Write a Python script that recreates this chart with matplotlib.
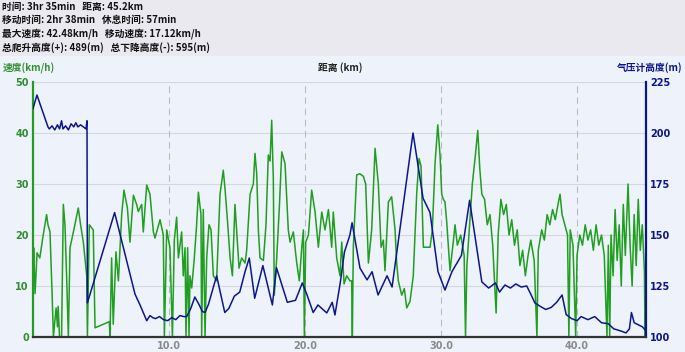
"""Speed and barometric altitude profile of a ride, drawn against distance."""

from __future__ import annotations

import matplotlib

matplotlib.use("Agg")
import matplotlib.pyplot as plt
from matplotlib.patches import Rectangle

CJK = ["Noto Sans CJK SC", "DejaVu Sans"]

SUMMARY_LINES = [
    "时间: 3hr 35min   距离: 45.2km",
    "移动时间: 2hr 38min   休息时间: 57min",
    "最大速度: 42.48km/h   移动速度: 17.12km/h",
    "总爬升高度(+): 489(m)   总下降高度(-): 595(m)",
]

# speed trace (km, km/h)
speed_km = [
    0.0, 0.05, 0.15, 0.3, 0.5, 0.75, 1.0, 1.1, 1.25, 1.4, 1.5, 1.6, 1.7, 1.8, 1.85, 1.95,
    2.1, 2.23, 2.35, 2.47, 2.6, 2.72, 2.97, 3.33, 3.5, 3.7, 3.95, 4.0, 4.14, 4.43, 4.56,
    5.61, 5.66, 5.78, 5.9, 6.1, 6.28, 6.52, 6.69, 6.94, 7.13, 7.38, 7.62, 7.74, 7.99,
    8.11, 8.36, 8.6, 8.85, 8.97, 9.34, 9.58, 9.66, 9.83, 10.07, 10.25, 10.39, 10.56,
    10.69, 10.93, 11.05, 11.18, 11.25, 11.37, 11.47, 11.54, 11.67, 11.86, 12.03, 12.16,
    12.35, 12.4, 12.52, 12.65, 12.77, 12.94, 13.09, 13.26, 13.5, 13.75, 13.99, 14.12,
    14.32, 14.49, 14.66, 14.85, 14.97, 15.15, 15.34, 15.59, 15.71, 15.96, 16.2, 16.32,
    16.45, 16.57, 16.69, 16.94, 17.13, 17.3, 17.43, 17.55, 17.67, 17.74, 17.92, 18.11,
    18.29, 18.53, 18.77, 18.9, 19.14, 19.39, 19.58, 19.76, 19.88, 19.95, 20.05, 20.25,
    20.49, 20.74, 20.98, 21.23, 21.47, 21.72, 21.96, 22.08, 22.33, 22.57, 22.7, 22.87,
    23.06, 23.31, 23.43, 23.48, 23.55, 23.8, 24.04, 24.29, 24.46, 24.66, 24.9, 25.15,
    25.39, 25.59, 25.76, 25.88, 26.13, 26.37, 26.62, 26.74, 26.86, 27.11, 27.3, 27.48,
    27.72, 27.96, 28.21, 28.38, 28.53, 28.7, 29.19, 29.36, 29.56, 29.76, 29.93, 30.05,
    30.17, 30.29, 30.42, 30.66, 30.9, 31.03, 31.2, 31.45, 31.7, 31.8, 31.9, 32.1, 32.3,
    32.5, 32.7, 32.85, 33.0, 33.2, 33.4, 33.6, 33.8, 34.05, 34.2, 34.4, 34.6, 34.8,
    35.0, 35.2, 35.4, 35.6, 35.8, 36.0, 36.2, 36.4, 36.6, 36.85, 37.05, 37.15, 37.4,
    37.6, 37.8, 38.0, 38.2, 38.4, 38.6, 38.75, 38.9, 39.1, 39.3, 39.4, 39.5, 39.7,
    39.9, 40.0, 40.2, 40.4, 40.6, 40.8, 41.0, 41.2, 41.4, 41.6, 41.8, 42.0, 42.2, 42.3,
    42.4, 42.5, 42.65, 42.8, 42.95, 43.1, 43.25, 43.4, 43.55, 43.75, 43.9, 44.05, 44.2,
    44.35, 44.5, 44.65, 44.8, 44.95, 45.0, 45.05,
]
speed_kmh = [
    12, 17.5, 8.5, 16.5, 15.5, 20, 24, 22, 20.6, 8.8, 0, 3, 5.7, 2, 6, 0,
    0, 26, 22, 12, 0, 17.5, 20.6, 25.3, 22, 18.6, 12, 0, 22, 21, 1.8,
    3, 0, 15.5, 2.5, 16.7, 11, 24, 28.8, 25.3, 18.6, 27.8, 26, 24.6, 26,
    20.6, 29.8, 28, 20.6, 19.4, 23, 20, 0, 21, 17.5, 0, 19, 23.5,
    15.5, 20.6, 12, 17.5, 0, 17.5, 0, 12, 9.6, 15.5, 22, 28.4,
    24, 0, 25, 0, 15.5, 22, 21, 12, 11, 28, 32.7, 29,
    22, 15.5, 12, 26, 21, 13.5, 15.5, 14.5, 17, 28, 30, 36,
    32, 21, 15.5, 15, 22, 35.7, 34.5, 42.5, 31, 8.2, 15.5, 25.3,
    36.3, 34, 21, 18.6, 20.6, 14.5, 11, 17.5, 21, 0, 18.6, 20,
    28.8, 24.5, 17.6, 24.5, 21, 25, 17.6, 24.5, 15.5, 12, 18.6, 10.4,
    12, 11, 11, 0, 17.5, 31.8, 32, 31.5, 30, 14.5, 21, 37,
    30, 17.6, 19, 13, 26.5, 27.5, 21, 14.5, 11, 8.2, 9.5, 5.7,
    7, 12, 28, 35, 33.5, 17.6, 17.6, 21, 34, 41.6, 35.5, 28,
    27, 26.5, 22.5, 13, 18.6, 22, 18, 20, 16, 0, 14, 22, 30,
    35, 40.5, 33, 28, 27, 22, 24, 18, 4.7, 20, 27, 24, 26,
    20, 23, 18, 21, 14, 17, 12, 16, 19, 15, 0, 17, 21,
    19, 24, 22, 25, 23, 26, 28, 24, 22, 20, 0, 21, 18,
    0, 16, 20, 18, 22, 19, 21, 17, 22, 18, 20, 16, 0, 18,
    0, 20, 12, 25, 15, 22, 10, 26, 16, 30, 18, 10, 24,
    14, 27, 17, 22, 13, 0, 13,
]

# barometric altitude trace (km, m)
alt_km = [
    0.0, 0.29, 1.1, 1.2, 1.4, 1.6, 1.8, 1.95, 2.1, 2.2, 2.4, 2.6, 2.8, 3.0, 3.15, 3.3,
    3.5, 3.7, 3.9, 3.97, 4.0, 6.0, 7.5, 7.87, 8.36, 8.6, 8.8, 9.0, 9.3, 9.6, 9.9, 10.2,
    10.5, 10.8, 11.1, 11.3, 11.6, 11.9, 12.2, 12.45, 12.65, 12.9, 13.2, 13.5, 13.8, 14.1,
    14.4, 14.8, 15.2, 15.59, 15.9, 16.3, 16.9, 17.6, 17.9, 18.7, 19.3, 19.8, 20.15, 20.6,
    20.95, 21.6, 22.0, 22.2, 22.6, 22.9, 23.3, 23.46, 24.04, 24.56, 24.93, 25.37, 26.03,
    26.4, 27.94, 28.68, 29.19, 29.78, 30.29, 30.8, 31.5, 32.1, 33.0, 33.5, 34.0, 34.3,
    34.7, 35.1, 35.5, 35.9, 36.3, 36.6, 36.9, 37.3, 37.7, 38.1, 38.5, 38.9, 39.2, 39.6,
    40.0, 40.3, 40.8, 41.3, 41.8, 42.3, 42.7, 43.2, 43.6, 43.85, 44.0, 44.2, 44.5, 44.8,
    45.0,
]
alt_m = [
    212, 218.6, 203, 202, 203.5, 201.5, 204, 202, 206, 202, 203.5, 201.5, 204.5, 203, 205, 203,
    204, 203, 202, 206, 116.7, 161, 121, 115.7, 108, 110.5, 109.5, 109, 110, 108.5, 108, 109.5,
    108.5, 110.5, 110, 110, 114, 119.6, 116, 112.5, 112, 116, 123, 130, 121, 112,
    114, 120, 122, 132, 138.7, 119, 135, 115.7, 134, 117, 118, 126.5, 120.6, 112,
    115.7, 111.8, 117, 110.8, 127, 141.7, 150, 156, 133.8, 128, 132, 120.6, 130,
    124.5, 200, 168, 161, 132, 123, 132, 140, 167, 127, 124, 126.5, 122,
    125.5, 124, 126, 124.5, 125, 121, 116.7, 115, 113.5, 114.5, 117, 120.6, 111, 109,
    108, 110, 108.5, 110, 107, 106.5, 104, 103, 102, 104, 112, 107, 106, 105,
    103.5,
]

speed_ticks = [0, 10, 20, 30, 40, 50]
alt_ticks = [100, 125, 150, 175, 200, 225]
dist_ticks = [10, 20, 30, 40]

GREEN = "#1f9e1f"
GREEN_TXT = "#2f8f2f"
NAVY = "#0c168c"
BG = "#eef3fb"


def draw_header(fig) -> None:
    fig.patches.append(
        Rectangle((0, 1 - 56 / 352), 1, 56 / 352, transform=fig.transFigure,
                  facecolor="#e9e9ef", edgecolor="none", zorder=0)
    )
    for i, line in enumerate(SUMMARY_LINES):
        y = 1 - (6.5 + i * 13.6) / 352
        fig.text(0.003, y, line, ha="left", va="center", fontsize=7.0,
                 fontweight="bold", family=CJK, color="#111111")


def main() -> None:
    fig = plt.figure(figsize=(6.85, 3.52), dpi=100, facecolor=BG)
    draw_header(fig)

    ax = fig.add_axes([33 / 685, 15 / 352, 613 / 685, 255 / 352])
    ax.set_facecolor(BG)
    ax2 = ax.twinx()

    ax.set_xlim(0, 45.07)
    ax.set_ylim(0, 50)
    ax2.set_ylim(100, 225)

    for v in speed_ticks[1:]:
        ax.axhline(v, color="#d4d8e0", lw=0.8, zorder=0)
    for d in dist_ticks:
        ax.axvline(d, color="#b8bcc4", lw=0.8, ls=(0, (6, 4)), zorder=0)

    ax.plot(speed_km, speed_kmh, color=GREEN, lw=1.1, zorder=2)
    ax2.plot(alt_km, alt_m, color=NAVY, lw=1.1, zorder=3)

    ax.set_xticks(dist_ticks)
    ax.set_xticklabels([f"{d:.1f}" for d in dist_ticks])
    ax.set_yticks(speed_ticks)
    ax2.set_yticks(alt_ticks)

    ax.tick_params(axis="x", length=0, pad=3, labelsize=7, labelcolor="#8a8a8a")
    ax.tick_params(axis="y", length=0, pad=3, labelsize=7, labelcolor=GREEN_TXT)
    ax2.tick_params(axis="y", length=0, pad=3, labelsize=7, labelcolor=NAVY)
    for lbl in ax.get_xticklabels() + ax.get_yticklabels() + ax2.get_yticklabels():
        lbl.set_fontweight("bold")

    for a in (ax, ax2):
        for side in ("top", "left", "right", "bottom"):
            a.spines[side].set_visible(False)
    ax2.spines["left"].set_visible(True)
    ax2.spines["left"].set_color(GREEN)
    ax2.spines["left"].set_linewidth(1.6)
    ax2.spines["right"].set_visible(True)
    ax2.spines["right"].set_color(NAVY)
    ax2.spines["right"].set_linewidth(1.6)
    ax2.spines["bottom"].set_visible(True)
    ax2.spines["bottom"].set_color("#333333")
    ax2.spines["bottom"].set_linewidth(1.6)

    fig.text(3 / 685, 1 - 68 / 352, "速度(km/h)", ha="left", va="center",
             fontsize=7.0, fontweight="bold", family=CJK, color=GREEN_TXT)
    fig.text(340 / 685, 1 - 68 / 352, "距离 (km)", ha="center", va="center",
             fontsize=7.0, fontweight="bold", family=CJK, color="#222222")
    fig.text(683 / 685, 1 - 68 / 352, "气压计高度(m)", ha="right", va="center",
             fontsize=7.0, fontweight="bold", family=CJK, color=NAVY)

    fig.savefig("out.png", dpi=100, facecolor=fig.get_facecolor())
    plt.close(fig)


if __name__ == "__main__":
    main()
